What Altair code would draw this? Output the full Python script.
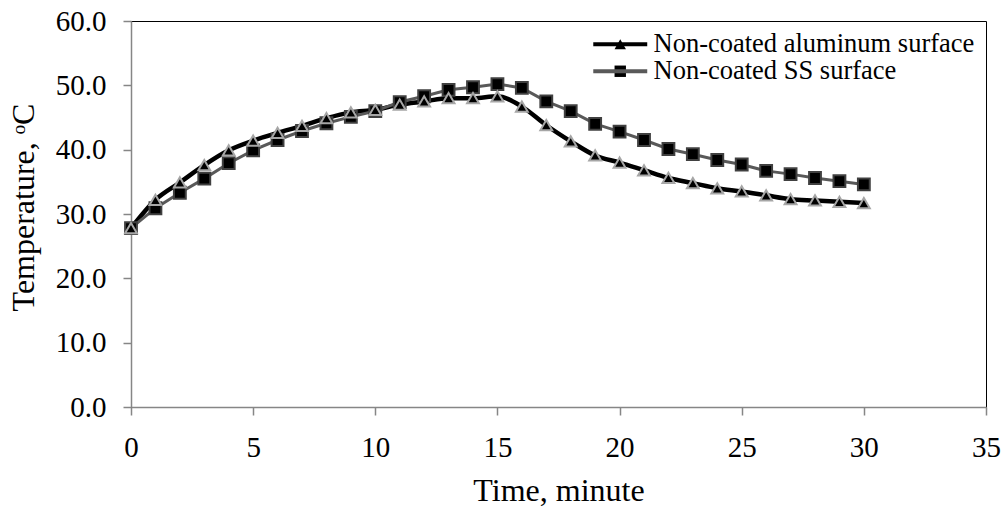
import altair as alt
import pandas as pd

time_min = list(range(0, 31))
aluminum = [27.8, 32.2, 34.9, 37.6, 39.9, 41.4, 42.6, 43.7, 44.9, 45.8, 46.2, 47.0, 47.5, 48.0, 48.0,
            48.3, 46.7, 43.8, 41.3, 39.1, 38.0, 36.8, 35.6, 34.8, 34.0, 33.5, 32.9, 32.3, 32.1, 31.9, 31.7]
stainless = [27.8, 30.9, 33.3, 35.5, 37.9, 39.9, 41.5, 42.9, 44.1, 45.1, 46.0, 47.4, 48.3, 49.3, 49.7,
             50.2, 49.6, 47.5, 46.0, 44.0, 42.8, 41.5, 40.1, 39.3, 38.4, 37.7, 36.7, 36.2, 35.6, 35.1, 34.6]
series_names = ["Non-coated aluminum surface", "Non-coated SS surface"]
x_ticks = [0, 5, 10, 15, 20, 25, 30, 35]
y_ticks = [0, 10, 20, 30, 40, 50, 60]

df = pd.concat([
    pd.DataFrame({"t": time_min, "v": aluminum, "series": series_names[0]}),
    pd.DataFrame({"t": time_min, "v": stainless, "series": series_names[1]}),
])
# separate key for the marker legend so it is not merged with the line legend
df["marker"] = df["series"] + " "
marker_names = [s + " " for s in series_names]

FONT = "Liberation Serif"

x_enc = alt.X("t:Q", scale=alt.Scale(domain=[0, 35], nice=False),
              axis=alt.Axis(values=x_ticks, format="d", title="Time, minute", labelFlush=False,
                            titleY=93, titleBaseline="alphabetic"))
y_enc = alt.Y("v:Q", scale=alt.Scale(domain=[0, 60], nice=False),
              axis=alt.Axis(values=y_ticks, format=".1f", title="Temperature, ᵒC",
                            titleX=-98, titleY=186, titleBaseline="alphabetic", titleAngle=270,
                            titleAlign="center"))

# wide horizontal stroke drawn with a small nominal symbol size, so rows stay compact
line_legend = alt.Legend(orient="none", legendX=462, legendY=10, title=None,
                         symbolType="M-2.5,0L2.5,0", symbolSize=466, symbolStrokeWidth=4,
                         symbolOffset=14, labelOffset=20,
                         labelFont=FONT, labelFontSize=26.5, labelColor="black",
                         rowPadding=0, padding=0, labelLimit=500)
stroke_scale = alt.Scale(domain=series_names, range=["black", "#595959"])

base = alt.Chart(df)

al_line = base.transform_filter(alt.datum.series == series_names[0]).mark_line(
    interpolate="monotone", strokeWidth=4.5).encode(
    x=x_enc, y=y_enc,
    stroke=alt.Stroke("series:N", scale=stroke_scale, legend=line_legend),
)
ss_line = base.transform_filter(alt.datum.series == series_names[1]).mark_line(strokeWidth=3).encode(
    x=x_enc, y=y_enc,
    stroke=alt.Stroke("series:N", scale=stroke_scale, legend=line_legend),
)
lines = alt.layer(al_line, ss_line)

point_legend = alt.Legend(orient="none", legendX=462, legendY=10, title=None,
                          symbolSize=130, symbolOffset=14, symbolStrokeWidth=2,
                          symbolFillColor="black", symbolStrokeColor="#8a8a8a", labelOffset=5,
                          labelFont=FONT, labelFontSize=26.5, labelOpacity=0,
                          rowPadding=0, padding=0, labelLimit=500)
points = base.mark_point(filled=True, fill="black", size=140, strokeWidth=2, opacity=1).encode(
    x=x_enc, y=y_enc,
    shape=alt.Shape("marker:N", scale=alt.Scale(domain=marker_names, range=["triangle-up", "square"]),
                    legend=point_legend),
    stroke=alt.Stroke("marker:N", scale=alt.Scale(domain=marker_names, range=["#a6a6a6", "#404040"]),
                      legend=None),
    order=alt.Order("marker:N"),
)

chart = alt.layer(lines, points).resolve_scale(stroke="independent").properties(
    width=855, height=386,
    autosize=alt.AutoSizeParams(type="none"),
    padding={"left": 131, "top": 21, "right": 17, "bottom": 99},
).configure_view(stroke="black", strokeWidth=1).configure_axis(
    grid=False, domainColor="#868686", domainWidth=1.5, tickColor="#868686", tickWidth=1.5,
    tickSize=8, labelFont=FONT, labelFontSize=29, labelColor="black",
    titleFont=FONT, titleFontSize=32, titleFontWeight="normal", titleColor="black",
).configure_axisX(labelPadding=18).configure_axisY(labelPadding=17)

chart.save("out.html", embed_options={"renderer": "svg", "actions": False})
